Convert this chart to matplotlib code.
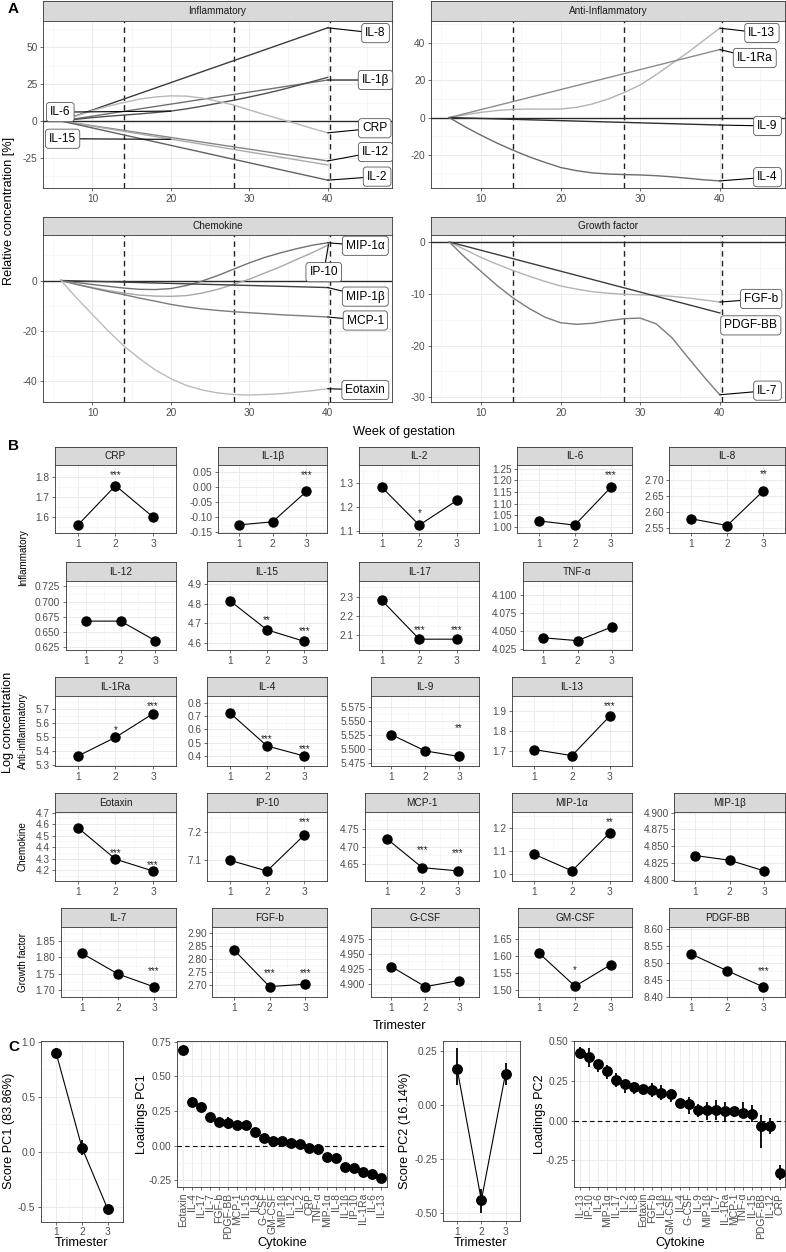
import matplotlib
matplotlib.use('Agg')
import matplotlib.pyplot as plt
import numpy as np

plt.rcParams['font.family'] = ['Liberation Sans', 'DejaVu Sans']
plt.rcParams['axes.unicode_minus'] = False

# ---------------- DATA ----------------
# Panel A : relative concentration [%] vs week of gestation
A_WEEKS = [6, 8, 10, 12, 14, 16, 18, 20, 22, 24, 26, 28, 30, 32, 34, 36, 38, 40]
A_WEEKS_LINE = [6, 40]
A_TRIMESTER_LINES = [14, 28, 40.3]

infl_il8 = [0, 63]
infl_il1b = [0, 27.7]
infl_il6 = [0, 1.2, 2.3, 3.2, 4, 4.8, 5.7, 6.7, 8.2, 10, 12, 14, 16.2, 18.5, 21, 23.8, 26.6, 29.5]
infl_crp = [0, 3.5, 7, 10, 12.5, 14.8, 16.2, 17, 16.8, 15.5, 13.3, 10.8, 7.5, 4.3, 1.2, -1.8, -5, -8]
infl_il12 = [0, -27]
infl_il15 = [0, -29.7]
infl_il2 = [0, -40]

anti_il13 = [0, 1.5, 2.8, 3.8, 4.4, 4.6, 4.5, 4.6, 5.5, 7.3, 10, 13.5, 17.5, 23, 29, 35, 41.5, 48]
anti_il1ra = [0, 36.5]
anti_il9 = [0, -4]
anti_il4 = [0, -5, -9.5, -13.7, -17.5, -21, -24, -26.8, -28.5, -29.7, -30.3, -30.6, -30.8, -31.2, -31.8, -32.6, -33.4, -34]

chem_mip1a = [0, -0.8, -1.6, -2.3, -3, -3.5, -3.6, -3.2, -2, -0.2, 2, 4.5, 7, 9.2, 11, 12.6, 14, 15]
chem_ip10 = [0, -1.5, -2.8, -4, -5, -5.8, -6.2, -6.3, -6, -5, -3.5, -1.5, 0.5, 3, 5.5, 8.3, 11, 14]
chem_mip1b = [0, -2.8]
chem_mcp1 = [0, -1.6, -3, -4.4, -5.6, -7, -8.2, -9.5, -10.5, -11.3, -11.9, -12.4, -12.8, -13.2, -13.6, -13.9, -14.2, -14.5]
chem_eotaxin = [0, -7, -13.5, -20, -26, -31, -35.5, -39, -41.7, -43.5, -44.7, -45.3, -45.5, -45.3, -45, -44.4, -43.8, -43]

grow_fgfb = [0, -1.5, -3, -4.3, -5.5, -6.6, -7.6, -8.5, -9.1, -9.6, -9.9, -10.1, -10.2, -10.3, -10.5, -10.8, -11.2, -11.6]
grow_pdgfbb = [0, -13.7]
grow_il7 = [0, -3, -5.7, -8.4, -10.8, -12.8, -14.5, -15.6, -15.9, -15.7, -15.2, -14.8, -14.7, -15.8, -18.5, -22.3, -26, -29.5]

# Panel B : log concentration per trimester
trimesters = [1, 2, 3]
b_crp = [1.558, 1.755, 1.598];      b_crp_sig = ['', '***', '']
b_il1b = [-0.125, -0.115, -0.014];  b_il1b_sig = ['', '', '***']
b_il2 = [1.281, 1.124, 1.226];      b_il2_sig = ['', '*', '']
b_il6 = [1.026, 1.008, 1.169];      b_il6_sig = ['', '', '***']
b_il8 = [2.579, 2.558, 2.665];      b_il8_sig = ['', '', '**']
b_il12 = [0.668, 0.668, 0.636];     b_il12_sig = ['', '', '']
b_il15 = [4.815, 4.666, 4.607];     b_il15_sig = ['', '**', '***']
b_il17 = [2.281, 2.080, 2.080];     b_il17_sig = ['', '***', '***']
b_tnfa = [4.041, 4.037, 4.056];     b_tnfa_sig = ['', '', '']
b_il1ra = [5.366, 5.500, 5.669];    b_il1ra_sig = ['', '*', '***']
b_il4 = [0.725, 0.475, 0.400];      b_il4_sig = ['', '***', '***']
b_il9 = [5.525, 5.496, 5.486];      b_il9_sig = ['', '', '**']
b_il13 = [1.705, 1.675, 1.872];     b_il13_sig = ['', '', '***']
b_eotaxin = [4.569, 4.297, 4.194];  b_eotaxin_sig = ['', '***', '***']
b_ip10 = [7.098, 7.059, 7.189];     b_ip10_sig = ['', '', '***']
b_mcp1 = [4.723, 4.640, 4.631];     b_mcp1_sig = ['', '***', '***']
b_mip1a = [1.084, 1.012, 1.177];    b_mip1a_sig = ['', '', '**']
b_mip1b = [4.836, 4.829, 4.813];    b_mip1b_sig = ['', '', '']
b_il7 = [1.812, 1.749, 1.710];      b_il7_sig = ['', '', '***']
b_fgfb = [2.835, 2.693, 2.702];     b_fgfb_sig = ['', '***', '***']
b_gcsf = [4.929, 4.896, 4.906];     b_gcsf_sig = ['', '', '']
b_gmcsf = [1.608, 1.510, 1.574];    b_gmcsf_sig = ['', '*', '']
b_pdgfbb = [8.527, 8.477, 8.429];   b_pdgfbb_sig = ['', '', '***']

# significance label heights (data units)
b_crp_sigy = [0, 1.817, 0]; b_il1b_sigy = [0, 0, 0.047]; b_il2_sigy = [0, 1.183, 0]
b_il6_sigy = [0, 0, 1.229]; b_il8_sigy = [0, 0, 2.723]
b_il15_sigy = [0, 4.728, 4.670]; b_il17_sigy = [0, 2.136, 2.136]
b_il1ra_sigy = [0, 5.564, 5.738]; b_il4_sigy = [0, 0.540, 0.465]; b_il9_sigy = [0, 0, 5.541]
b_il13_sigy = [0, 0, 1.934]
b_eotaxin_sigy = [0, 4.365, 4.260]; b_ip10_sigy = [0, 0, 7.243]; b_mcp1_sigy = [0, 4.696, 4.687]
b_mip1a_sigy = [0, 0, 1.235]
b_il7_sigy = [0, 0, 1.764]; b_fgfb_sigy = [0, 2.753, 2.753]; b_gmcsf_sigy = [0, 1.565, 0]
b_pdgfbb_sigy = [0, 0, 8.483]
b_none_sigy = [0, 0, 0]

# Panel C : PCA
pc1_score = [0.895, 0.036, -0.524]
pc1_score_lo = [0.85, -0.03, -0.545]
pc1_score_hi = [0.945, 0.106, -0.505]
pc2_score = [0.168, -0.441, 0.147]
pc2_score_lo = [0.096, -0.498, 0.096]
pc2_score_hi = [0.266, -0.39, 0.196]

pc1_cytokines = ['Eotaxin', 'IL-4', 'IL-17', 'IL-7', 'FGF-b', 'PDGF-BB', 'MCP-1', 'IL-15', 'IL-9',
                 'G-CSF', 'GM-CSF', 'MIP-1β', 'IL-12', 'IL-2', 'CRP', 'TNF-α', 'MIP-1α', 'IL-8',
                 'IL-1β', 'IP-10', 'IL-1Ra', 'IL-6', 'IL-13']
pc1_loading = [0.693, 0.312, 0.281, 0.204, 0.173, 0.161, 0.149, 0.149, 0.096, 0.053, 0.034, 0.034,
               0.017, 0.010, -0.014, -0.024, -0.084, -0.091, -0.151, -0.158, -0.187, -0.206, -0.230]
pc1_loading_lo = [0.68, 0.30, 0.27, 0.18, 0.16, 0.12, 0.13, 0.14, 0.085, 0.03, 0.01, 0.02,
                  0.005, 0.0, -0.03, -0.07, -0.095, -0.10, -0.16, -0.17, -0.197, -0.215, -0.24]
pc1_loading_hi = [0.705, 0.325, 0.29, 0.22, 0.185, 0.21, 0.165, 0.16, 0.105, 0.07, 0.055, 0.045,
                  0.028, 0.02, 0.0, 0.01, -0.075, -0.08, -0.14, -0.145, -0.177, -0.195, -0.22]

pc2_cytokines = ['IL-13', 'IP-10', 'IL-6', 'MIP-1α', 'IL-17', 'IL-2', 'IL-8', 'Eotaxin', 'FGF-b',
                 'IL-1β', 'GM-CSF', 'IL-4', 'G-CSF', 'IL-9', 'MIP-1β', 'IL-7', 'IL-1Ra', 'MCP-1',
                 'TNF-α', 'IL-15', 'PDGF-BB', 'IL-12', 'CRP']
pc2_loading = [0.426, 0.397, 0.353, 0.31, 0.254, 0.227, 0.208, 0.197, 0.189, 0.176, 0.164, 0.109,
               0.105, 0.065, 0.065, 0.065, 0.06, 0.057, 0.048, 0.044, -0.034, -0.034, -0.328]
pc2_loading_lo = [0.384, 0.338, 0.306, 0.264, 0.212, 0.17, 0.166, 0.18, 0.145, 0.128, 0.117, 0.09,
                  0.044, 0.023, 0.002, 0.002, -0.002, 0.023, 0.013, -0.009, -0.17, -0.082, -0.376]
pc2_loading_hi = [0.463, 0.453, 0.38, 0.348, 0.296, 0.254, 0.243, 0.21, 0.237, 0.222, 0.195, 0.13,
                  0.149, 0.107, 0.117, 0.128, 0.117, 0.086, 0.117, 0.096, 0.033, 0.013, -0.281]

# ---------------- LAYOUT / STYLE ----------------
W, H = 786, 1252
fig = plt.figure(figsize=(W / 100, H / 100), dpi=100)
fig.patch.set_facecolor('white')

BORDER = '#333333'
TICKLAB = '#4d4d4d'
GRID_MAJ = '#ebebeb'
GRID_MIN = '#f4f4f4'
STRIP_BG = '#d9d9d9'
TICK_FS = 7.3
TITLE_FS = 9.2


def px_axes(x0, y0, x1, y1):
    return fig.add_axes([x0 / W, 1 - y1 / H, (x1 - x0) / W, (y1 - y0) / H])


def fig_text(x, y, s, **kw):
    return fig.text(x / W, 1 - y / H, s, **kw)


def strip(x0, y0, x1, y1, text):
    ax = px_axes(x0, y0, x1, y1)
    ax.set_facecolor(STRIP_BG)
    ax.set_xticks([]); ax.set_yticks([])
    for s in ax.spines.values():
        s.set_color(BORDER); s.set_linewidth(0.6)
    ax.text(0.5, 0.5, text, ha='center', va='center', fontsize=7.2, color='#1a1a1a',
            transform=ax.transAxes)
    return ax


def minors(ticks, lim):
    step = ticks[1] - ticks[0]
    cand = [ticks[0] - step / 2] + [t + step / 2 for t in ticks]
    return [c for c in cand if lim[0] <= c <= lim[1]]


def style(ax, xticks, xlim, yticks, ylim, ylabels=None, xlabels=None, xminor=True):
    ax.set_xlim(*xlim); ax.set_ylim(*ylim)
    ax.set_xticks(xticks)
    ax.set_yticks(yticks)
    if ylabels is not None:
        ax.set_yticklabels(ylabels)
    if xlabels is not None:
        ax.set_xticklabels(xlabels)
    ax.set_yticks(minors(yticks, ylim), minor=True)
    if xminor:
        ax.set_xticks(minors(xticks, xlim), minor=True)
    ax.grid(True, which='major', color=GRID_MAJ, lw=0.7)
    ax.grid(True, which='minor', color=GRID_MIN, lw=0.4)
    ax.set_axisbelow(True)
    ax.tick_params(which='major', length=2.5, width=0.5, color=BORDER, labelcolor=TICKLAB,
                   labelsize=TICK_FS, pad=1.5)
    ax.tick_params(which='minor', length=0)
    for s in ax.spines.values():
        s.set_color(BORDER); s.set_linewidth(0.6)


# ---------------- PANEL A ----------------
A_XLIM = (3.7, 48.2)
A_XTICKS = [10, 20, 30, 40]
a_panels = [
    dict(title='Inflammatory', box=(43, 1, 392, 20.7, 188), ylim=(-45.3, 67.8), yticks=[-25, 0, 25, 50],
         series=[(A_WEEKS_LINE, infl_il8, '#3c3c3c', 'IL-8', (46.1, 59.4), (40, 63)),
                 (A_WEEKS_LINE, infl_il1b, '#707070', 'IL-1β', (46.1, 27.7), (40, 27.7)),
                 (A_WEEKS, infl_il6, '#505050', 'IL-6', (5.9, 6.0), (20, 6.7)),
                 (A_WEEKS, infl_crp, '#b8b8b8', 'CRP', (46.0, -4.9), (40, -8)),
                 (A_WEEKS_LINE, infl_il12, '#858585', 'IL-12', (46.1, -21), (40, -27)),
                 (A_WEEKS_LINE, infl_il15, '#ababab', 'IL-15', (6.2, -12.0), (20, -12.4)),
                 (A_WEEKS_LINE, infl_il2, '#616161', 'IL-2', (46.3, -37.6), (40, -40))]),
    dict(title='Anti-Inflammatory', box=(431, 1, 785, 20.7, 188), ylim=(-37.8, 52), yticks=[-20, 0, 20, 40],
         series=[(A_WEEKS, anti_il13, '#b3b3b3', 'IL-13', (45.3, 45.4), (40, 48)),
                 (A_WEEKS_LINE, anti_il1ra, '#8c8c8c', 'IL-1Ra', (44.4, 32), (40, 36.5)),
                 (A_WEEKS_LINE, anti_il9, '#2e2e2e', 'IL-9', (46.0, -4.5), (40, -4)),
                 (A_WEEKS, anti_il4, '#6c6c6c', 'IL-4', (46.0, -32), (40, -34))]),
    dict(title='Chemokine', box=(43, 216.7, 392, 234.7, 402.3), ylim=(-48.4, 18.2), yticks=[-40, -20, 0],
         series=[(A_WEEKS, chem_mip1a, '#727272', 'MIP-1α', (44.8, 13.8), (40, 15)),
                 (A_WEEKS, chem_ip10, '#a8a8a8', 'IP-10', (39.5, 3.3), (40.1, 14.3)),
                 (A_WEEKS_LINE, chem_mip1b, '#404040', 'MIP-1β', (44.8, -6.4), (40, -2.8)),
                 (A_WEEKS, chem_mcp1, '#7c7c7c', 'MCP-1', (44.8, -15.9), (40, -14.5)),
                 (A_WEEKS, chem_eotaxin, '#bbbbbb', 'Eotaxin', (44.8, -43.5), (40, -43))]),
    dict(title='Growth factor', box=(431, 216.7, 785, 234.7, 402.3), ylim=(-30.95, 1.4), yticks=[-30, -20, -10, 0],
         series=[(A_WEEKS, grow_fgfb, '#b3b3b3', 'FGF-b', (45.2, -11.0), (40, -11.6)),
                 (A_WEEKS_LINE, grow_pdgfbb, '#3c3c3c', 'PDGF-BB', (43.9, -16.1), None),
                 (A_WEEKS, grow_il7, '#7c7c7c', 'IL-7', (46.0, -28.7), (40, -29.5))]),
]

for p in a_panels:
    x0, s0, x1, p0, p1 = p['box']
    strip(x0, s0, x1, p0, p['title'])
    ax = px_axes(x0, p0, x1, p1)
    style(ax, A_XTICKS, A_XLIM, p['yticks'], p['ylim'])
    for xv in A_TRIMESTER_LINES:
        ax.axvline(xv, color='#222222', lw=1.0, ls=(0, (4, 3)), zorder=2)
    ax.axhline(0, color='#2a2a2a', lw=1.0, zorder=2)
    for xs, ys, col, lab, lpos, anchor in p['series']:
        ax.plot(xs, ys, color=col, lw=1.0, zorder=3)
    for xs, ys, col, lab, lpos, anchor in p['series']:
        bbox = dict(boxstyle='round,pad=0.3,rounding_size=0.25', fc='white', ec='#555555', lw=0.6)
        if anchor is None:
            ax.text(lpos[0], lpos[1], lab, ha='center', va='center', fontsize=8.6, bbox=bbox,
                    zorder=5, clip_on=False)
        else:
            ax.annotate(lab, xy=anchor, xytext=lpos, ha='center', va='center', fontsize=8.6,
                        bbox=bbox, zorder=5, annotation_clip=False,
                        arrowprops=dict(arrowstyle='-', color='black', lw=0.8, shrinkA=0, shrinkB=0))

fig_text(8, 9, 'A', fontsize=11, fontweight='bold', ha='left', va='center')
fig_text(9, 211, 'Relative concentration [%]', rotation=90, fontsize=TITLE_FS, ha='center', va='center')
fig_text(404, 432, 'Week of gestation', fontsize=TITLE_FS, ha='center', va='center')

# ---------------- PANEL B ----------------
ROW1 = (447, 465, 533.3)
ROW2 = (562.3, 581, 650)
ROW3 = (677.3, 696, 766)
ROW4 = (793.3, 812, 881)
ROW5 = (908.3, 927, 997)

b_panels = [
    ('CRP', b_crp, b_crp_sig, b_crp_sigy, ['1.6', '1.7', '1.8'], (1.517, 1.858), ROW1, 55.3, 175.7),
    ('IL-1β', b_il1b, b_il1b_sig, b_il1b_sigy, ['-0.15', '-0.10', '-0.05', '0.00', '0.05'], (-0.153, 0.074), ROW1, 218.3, 326.7),
    ('IL-2', b_il2, b_il2_sig, b_il2_sigy, ['1.1', '1.2', '1.3'], (1.09, 1.373), ROW1, 359.3, 479.3),
    ('IL-6', b_il6, b_il6_sig, b_il6_sigy, ['1.00', '1.05', '1.10', '1.15', '1.20', '1.25'], (0.973, 1.265), ROW1, 517.3, 632.3),
    ('IL-8', b_il8, b_il8_sig, b_il8_sigy, ['2.55', '2.60', '2.65', '2.70'], (2.534, 2.745), ROW1, 669.3, 785),
    ('IL-12', b_il12, b_il12_sig, b_none_sigy, ['0.625', '0.650', '0.675', '0.700', '0.725'], (0.6205, 0.734), ROW2, 65.7, 175.7),
    ('IL-15', b_il15, b_il15_sig, b_il15_sigy, ['4.6', '4.7', '4.8', '4.9'], (4.563, 4.915), ROW2, 207.3, 326.7),
    ('IL-17', b_il17, b_il17_sig, b_il17_sigy, ['2.1', '2.2', '2.3'], (2.024, 2.381), ROW2, 359.3, 479.3),
    ('TNF-α', b_tnfa, b_tnfa_sig, b_none_sigy, ['4.025', '4.050', '4.075', '4.100'], (4.024, 4.12), ROW2, 522.7, 632.3),
    ('IL-1Ra', b_il1ra, b_il1ra_sig, b_il1ra_sigy, ['5.3', '5.4', '5.5', '5.6', '5.7'], (5.295, 5.795), ROW3, 55.3, 175.7),
    ('IL-4', b_il4, b_il4_sig, b_il4_sigy, ['0.4', '0.5', '0.6', '0.7', '0.8'], (0.325, 0.85), ROW3, 207.3, 326.7),
    ('IL-9', b_il9, b_il9_sig, b_il9_sigy, ['5.475', '5.500', '5.525', '5.550', '5.575'], (5.469, 5.594), ROW3, 371, 479.3),
    ('IL-13', b_il13, b_il13_sig, b_il13_sigy, ['1.7', '1.8', '1.9'], (1.623, 1.973), ROW3, 511.7, 632.3),
    ('Eotaxin', b_eotaxin, b_eotaxin_sig, b_eotaxin_sigy, ['4.2', '4.3', '4.4', '4.5', '4.6', '4.7'], (4.108, 4.705), ROW4, 55.3, 175.7),
    ('IP-10', b_ip10, b_ip10_sig, b_ip10_sigy, ['7.1', '7.2'], (7.023, 7.272), ROW4, 207.3, 326.7),
    ('MCP-1', b_mcp1, b_mcp1_sig, b_mcp1_sigy, ['4.65', '4.70', '4.75'], (4.602, 4.799), ROW4, 365.3, 479.3),
    ('MIP-1α', b_mip1a, b_mip1a_sig, b_mip1a_sigy, ['1.0', '1.1', '1.2'], (0.968, 1.268), ROW4, 511.7, 632.3),
    ('MIP-1β', b_mip1b, b_mip1b_sig, b_none_sigy, ['4.800', '4.825', '4.850', '4.875', '4.900'], (4.798, 4.901), ROW4, 674.3, 785),
    ('IL-7', b_il7, b_il7_sig, b_il7_sigy, ['1.70', '1.75', '1.80', '1.85'], (1.679, 1.893), ROW5, 60.7, 175.7),
    ('FGF-b', b_fgfb, b_fgfb_sig, b_fgfb_sigy, ['2.70', '2.75', '2.80', '2.85', '2.90'], (2.653, 2.922), ROW5, 212.3, 326.7),
    ('G-CSF', b_gcsf, b_gcsf_sig, b_none_sigy, ['4.900', '4.925', '4.950', '4.975'], (4.879, 4.994), ROW5, 371, 479.3),
    ('GM-CSF', b_gmcsf, b_gmcsf_sig, b_gmcsf_sigy, ['1.50', '1.55', '1.60', '1.65'], (1.478, 1.686), ROW5, 517.7, 632.3),
    ('PDGF-BB', b_pdgfbb, b_pdgfbb_sig, b_pdgfbb_sigy, ['8.40', '8.45', '8.50', '8.55', '8.60'], (8.399, 8.607), ROW5, 669.3, 785),
]

for name, vals, sig, sigy, ylabs, ylim, row, x0, x1 in b_panels:
    s0, p0, p1 = row
    strip(x0, s0, x1, p0, name)
    ax = px_axes(x0, p0, x1, p1)
    yt = [float(v) for v in ylabs]
    style(ax, trimesters, (0.4, 3.6), yt, ylim, ylabels=ylabs, xlabels=[str(t) for t in trimesters])
    ax.plot(trimesters, vals, color='black', lw=0.8, marker='o', ms=6.5, zorder=3)
    for t, s, yv in zip(trimesters, sig, sigy):
        if s:
            ax.annotate(s, (t, yv), xytext=(0, -3.6), textcoords='offset points', ha='center',
                        va='baseline', fontsize=7, color='#222222')

fig_text(8, 446, 'B', fontsize=11, fontweight='bold', ha='left', va='center')
fig_text(8, 722, 'Log concentration', rotation=90, fontsize=TITLE_FS, ha='center', va='center')
for lab, yc in [('Inflammatory', 557.5), ('Anti-inflammatory', 731), ('Chemokine', 846.5), ('Growth factor', 962)]:
    fig_text(23, yc, lab, rotation=90, fontsize=7.1, ha='center', va='center')
fig_text(400, 1026, 'Trimester', fontsize=TITLE_FS, ha='center', va='center')

# ---------------- PANEL C ----------------
def errbar(ax, xs, lo, hi):
    ax.vlines(xs, lo, hi, color='black', lw=1.3, zorder=3)

# C1
ax = px_axes(40.7, 1041, 123.3, 1221.7)
style(ax, trimesters, (0.4, 3.6), [-0.5, 0.0, 0.5, 1.0], (-0.636, 1.006),
      ylabels=['-0.5', '0.0', '0.5', '1.0'], xlabels=['1', '2', '3'])
errbar(ax, trimesters, pc1_score_lo, pc1_score_hi)
ax.plot(trimesters, pc1_score, color='black', lw=0.8, marker='o', ms=6.8, zorder=4)
fig_text(82, 1243, 'Trimester', fontsize=TITLE_FS, ha='center', va='center')
fig_text(9, 1131, 'Score PC1 (83.86%)', rotation=90, fontsize=TITLE_FS, ha='center', va='center')

# C2
n1 = np.arange(1, len(pc1_cytokines) + 1)
ax = px_axes(177.3, 1040.7, 386.7, 1187.3)
style(ax, list(n1), (0.4, len(n1) + 0.6), [-0.25, 0.0, 0.25, 0.5, 0.75], (-0.30, 0.757),
      ylabels=['-0.25', '0.00', '0.25', '0.50', '0.75'], xminor=False)
ax.set_xticklabels(pc1_cytokines, rotation=90, fontsize=7.5)
ax.axhline(0, color='black', lw=0.8, ls=(0, (4, 3)), zorder=2)
errbar(ax, n1, pc1_loading_lo, pc1_loading_hi)
ax.plot(n1, pc1_loading, ls='none', marker='o', color='black', ms=6.8, zorder=4)
fig_text(282, 1243, 'Cytokine', fontsize=TITLE_FS, ha='center', va='center')
fig_text(142, 1114, 'Loadings PC1', rotation=90, fontsize=TITLE_FS, ha='center', va='center')

# C3
ax = px_axes(442.7, 1040.5, 520, 1221)
style(ax, trimesters, (0.4, 3.6), [-0.5, -0.25, 0.0, 0.25], (-0.537, 0.301),
      ylabels=['-0.50', '-0.25', '0.00', '0.25'], xlabels=['1', '2', '3'])
errbar(ax, trimesters, pc2_score_lo, pc2_score_hi)
ax.plot(trimesters, pc2_score, color='black', lw=0.8, marker='o', ms=6.8, zorder=4)
fig_text(481, 1243, 'Trimester', fontsize=TITLE_FS, ha='center', va='center')
fig_text(405, 1131, 'Score PC2 (16.14%)', rotation=90, fontsize=TITLE_FS, ha='center', va='center')

# C4
n2 = np.arange(1, len(pc2_cytokines) + 1)
ax = px_axes(574.3, 1040.7, 785, 1187.3)
style(ax, list(n2), (0.4, len(n2) + 0.6), [-0.25, 0.0, 0.25, 0.5], (-0.42, 0.502),
      ylabels=['-0.25', '0.00', '0.25', '0.50'], xminor=False)
ax.set_xticklabels(pc2_cytokines, rotation=90, fontsize=7.5)
ax.axhline(0, color='black', lw=0.8, ls=(0, (4, 3)), zorder=2)
errbar(ax, n2, pc2_loading_lo, pc2_loading_hi)
ax.plot(n2, pc2_loading, ls='none', marker='o', color='black', ms=6.8, zorder=4)
fig_text(680, 1243, 'Cytokine', fontsize=TITLE_FS, ha='center', va='center')
fig_text(540, 1114, 'Loadings PC2', rotation=90, fontsize=TITLE_FS, ha='center', va='center')

fig_text(8, 1047, 'C', fontsize=11, fontweight='bold', ha='left', va='center')

fig.savefig('out.png', dpi=100, facecolor='white')
